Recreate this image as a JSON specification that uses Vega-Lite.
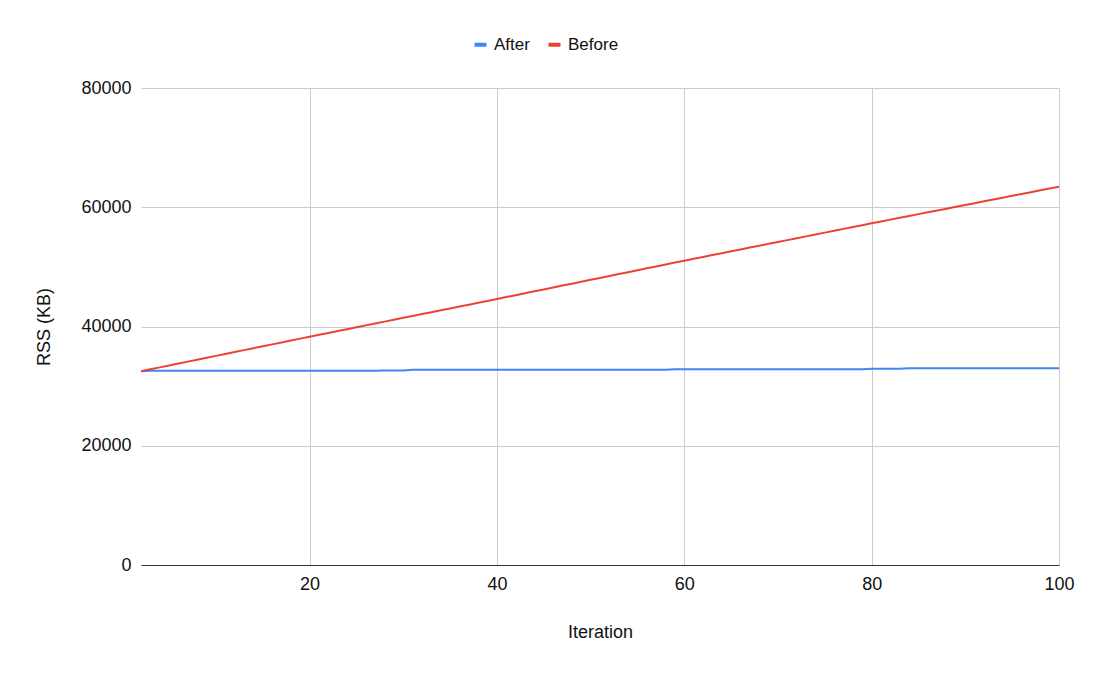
{
  "$schema": "https://vega.github.io/schema/vega-lite/v6.json",
  "width": 918,
  "height": 477,
  "autosize": {"type": "none"},
  "padding": {"left": 141, "top": 88, "right": 34, "bottom": 112},
  "background": "white",
  "config": {"font": "Liberation Sans", "view": {"stroke": null}},
  "data": {"values": [
    {"Iteration": 2, "After": 32480, "Before": 32500},
    {"Iteration": 3, "After": 32560, "Before": 32822},
    {"Iteration": 4, "After": 32580, "Before": 33143},
    {"Iteration": 5, "After": 32580, "Before": 33465},
    {"Iteration": 6, "After": 32580, "Before": 33787},
    {"Iteration": 7, "After": 32580, "Before": 34108},
    {"Iteration": 8, "After": 32580, "Before": 34430},
    {"Iteration": 9, "After": 32580, "Before": 34752},
    {"Iteration": 10, "After": 32580, "Before": 35074},
    {"Iteration": 11, "After": 32580, "Before": 35395},
    {"Iteration": 12, "After": 32580, "Before": 35717},
    {"Iteration": 13, "After": 32580, "Before": 36039},
    {"Iteration": 14, "After": 32580, "Before": 36360},
    {"Iteration": 15, "After": 32580, "Before": 36682},
    {"Iteration": 16, "After": 32580, "Before": 37004},
    {"Iteration": 17, "After": 32580, "Before": 37325},
    {"Iteration": 18, "After": 32580, "Before": 37647},
    {"Iteration": 19, "After": 32580, "Before": 37969},
    {"Iteration": 20, "After": 32580, "Before": 38290},
    {"Iteration": 21, "After": 32580, "Before": 38606},
    {"Iteration": 22, "After": 32580, "Before": 38922},
    {"Iteration": 23, "After": 32580, "Before": 39238},
    {"Iteration": 24, "After": 32580, "Before": 39554},
    {"Iteration": 25, "After": 32580, "Before": 39870},
    {"Iteration": 26, "After": 32580, "Before": 40186},
    {"Iteration": 27, "After": 32580, "Before": 40502},
    {"Iteration": 28, "After": 32620, "Before": 40818},
    {"Iteration": 29, "After": 32620, "Before": 41134},
    {"Iteration": 30, "After": 32620, "Before": 41450},
    {"Iteration": 31, "After": 32750, "Before": 41766},
    {"Iteration": 32, "After": 32750, "Before": 42082},
    {"Iteration": 33, "After": 32750, "Before": 42398},
    {"Iteration": 34, "After": 32750, "Before": 42714},
    {"Iteration": 35, "After": 32750, "Before": 43030},
    {"Iteration": 36, "After": 32750, "Before": 43346},
    {"Iteration": 37, "After": 32750, "Before": 43662},
    {"Iteration": 38, "After": 32750, "Before": 43978},
    {"Iteration": 39, "After": 32750, "Before": 44294},
    {"Iteration": 40, "After": 32750, "Before": 44610},
    {"Iteration": 41, "After": 32750, "Before": 44932},
    {"Iteration": 42, "After": 32750, "Before": 45253},
    {"Iteration": 43, "After": 32750, "Before": 45575},
    {"Iteration": 44, "After": 32750, "Before": 45896},
    {"Iteration": 45, "After": 32750, "Before": 46218},
    {"Iteration": 46, "After": 32750, "Before": 46539},
    {"Iteration": 47, "After": 32750, "Before": 46861},
    {"Iteration": 48, "After": 32750, "Before": 47182},
    {"Iteration": 49, "After": 32750, "Before": 47504},
    {"Iteration": 50, "After": 32750, "Before": 47825},
    {"Iteration": 51, "After": 32750, "Before": 48147},
    {"Iteration": 52, "After": 32750, "Before": 48468},
    {"Iteration": 53, "After": 32750, "Before": 48790},
    {"Iteration": 54, "After": 32750, "Before": 49111},
    {"Iteration": 55, "After": 32750, "Before": 49433},
    {"Iteration": 56, "After": 32750, "Before": 49754},
    {"Iteration": 57, "After": 32750, "Before": 50076},
    {"Iteration": 58, "After": 32750, "Before": 50397},
    {"Iteration": 59, "After": 32850, "Before": 50719},
    {"Iteration": 60, "After": 32850, "Before": 51040},
    {"Iteration": 61, "After": 32850, "Before": 51354},
    {"Iteration": 62, "After": 32850, "Before": 51667},
    {"Iteration": 63, "After": 32850, "Before": 51981},
    {"Iteration": 64, "After": 32850, "Before": 52294},
    {"Iteration": 65, "After": 32850, "Before": 52608},
    {"Iteration": 66, "After": 32850, "Before": 52921},
    {"Iteration": 67, "After": 32850, "Before": 53235},
    {"Iteration": 68, "After": 32850, "Before": 53548},
    {"Iteration": 69, "After": 32850, "Before": 53862},
    {"Iteration": 70, "After": 32850, "Before": 54175},
    {"Iteration": 71, "After": 32850, "Before": 54489},
    {"Iteration": 72, "After": 32850, "Before": 54802},
    {"Iteration": 73, "After": 32850, "Before": 55116},
    {"Iteration": 74, "After": 32850, "Before": 55429},
    {"Iteration": 75, "After": 32850, "Before": 55743},
    {"Iteration": 76, "After": 32850, "Before": 56056},
    {"Iteration": 77, "After": 32850, "Before": 56370},
    {"Iteration": 78, "After": 32850, "Before": 56683},
    {"Iteration": 79, "After": 32850, "Before": 56997},
    {"Iteration": 80, "After": 32930, "Before": 57310},
    {"Iteration": 81, "After": 32930, "Before": 57617},
    {"Iteration": 82, "After": 32930, "Before": 57924},
    {"Iteration": 83, "After": 32930, "Before": 58231},
    {"Iteration": 84, "After": 33000, "Before": 58538},
    {"Iteration": 85, "After": 33000, "Before": 58845},
    {"Iteration": 86, "After": 33000, "Before": 59152},
    {"Iteration": 87, "After": 33000, "Before": 59459},
    {"Iteration": 88, "After": 33000, "Before": 59766},
    {"Iteration": 89, "After": 33000, "Before": 60073},
    {"Iteration": 90, "After": 33000, "Before": 60380},
    {"Iteration": 91, "After": 33000, "Before": 60687},
    {"Iteration": 92, "After": 33000, "Before": 60994},
    {"Iteration": 93, "After": 33000, "Before": 61301},
    {"Iteration": 94, "After": 33000, "Before": 61608},
    {"Iteration": 95, "After": 33000, "Before": 61915},
    {"Iteration": 96, "After": 33000, "Before": 62222},
    {"Iteration": 97, "After": 33000, "Before": 62529},
    {"Iteration": 98, "After": 33000, "Before": 62836},
    {"Iteration": 99, "After": 33000, "Before": 63143},
    {"Iteration": 100, "After": 33000, "Before": 63450}
  ]},
  "transform": [{"fold": ["After", "Before"], "as": ["Series", "RSS"]}],
  "mark": {"type": "line", "strokeWidth": 2},
  "encoding": {
    "x": {
      "field": "Iteration", "type": "quantitative",
      "scale": {"domain": [2, 100], "nice": false, "zero": false},
      "axis": {
        "values": [20, 40, 60, 80, 100], "format": "d",
        "grid": true, "gridColor": "#cccccc", "gridOpacity": 1,
        "domainColor": "#333333", "ticks": false, "labelFlush": false,
        "labelPadding": 10, "labelFontSize": 18, "labelColor": "#111111",
        "title": "Iteration", "titleFontSize": 18, "titleFontWeight": "normal",
        "titleColor": "#111111", "titlePadding": 30
      }
    },
    "y": {
      "field": "RSS", "type": "quantitative",
      "scale": {"domain": [0, 80000], "nice": false},
      "axis": {
        "values": [0, 20000, 40000, 60000, 80000], "format": "d",
        "grid": true, "gridColor": "#cccccc", "gridOpacity": 1,
        "domain": false, "ticks": false,
        "labelPadding": 10, "labelFontSize": 18, "labelColor": "#111111",
        "title": "RSS (KB)", "titleFontSize": 18, "titleFontWeight": "normal",
        "titleColor": "#111111", "titlePadding": 27
      }
    },
    "color": {
      "field": "Series", "type": "nominal",
      "scale": {"domain": ["After", "Before"], "range": ["#4285F4", "#EA4335"]},
      "legend": {
        "title": null, "orient": "none", "direction": "horizontal",
        "legendX": 331, "legendY": -52,
        "symbolType": "stroke", "symbolStrokeWidth": 4, "symbolSize": 144,
        "labelFontSize": 17, "labelColor": "#111111", "labelOffset": 5, "columnPadding": 10
      }
    }
  }
}
